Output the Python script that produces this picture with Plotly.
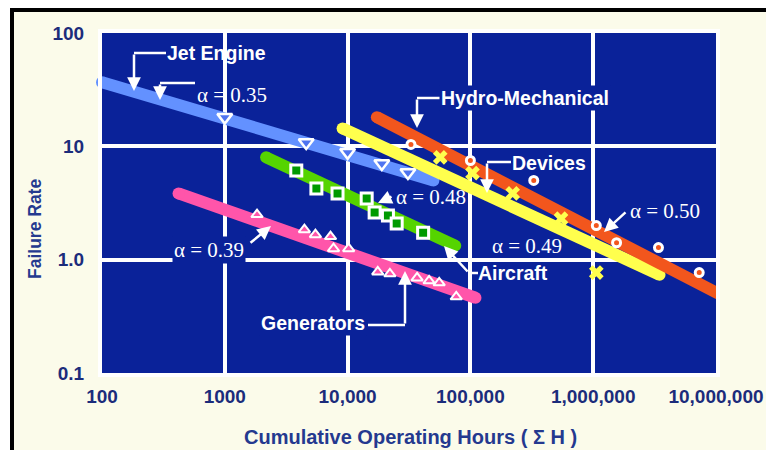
import plotly.graph_objects as go

# ---- data: cumulative operating hours vs. cumulative failure rate ----
jet_hours = [1000, 4600, 10000, 19000, 31000]
jet_rate = [18.1, 10.8, 8.85, 7.07, 5.89]
jet_fit_hours = [100, 50000]
jet_fit_rate = [36.8, 5.0]

hydro_hours = [32800, 100000, 328000, 1.06e6, 1.55e6, 3.4e6, 7.3e6]
hydro_rate = [10.4, 7.5, 5.0, 2.0, 1.41, 1.28, 0.77]
hydro_fit_hours = [17300, 1.05e7]
hydro_fit_rate = [18.1, 0.50]

devices_hours = [56800, 104000, 221000, 547000, 1.06e6]
devices_rate = [8.0, 5.8, 3.85, 2.3, 0.77]
devices_fit_hours = [9100, 3.47e6]
devices_fit_rate = [14.4, 0.736]

aircraft_hours = [3820, 5570, 8280, 14300, 16600, 21300, 25100, 41200]
aircraft_rate = [6.13, 4.25, 3.84, 3.47, 2.61, 2.45, 2.08, 1.73]
aircraft_fit_hours = [2170, 75300]
aircraft_fit_rate = [8.0, 1.33]

gen_hours = [1830, 4450, 5470, 7260, 7680, 10200, 17600, 22100, 36800, 46100, 55700, 76700]
gen_rate = [2.50, 1.84, 1.66, 1.60, 1.25, 1.25, 0.78, 0.75, 0.69, 0.65, 0.625, 0.47]
gen_fit_hours = [420, 110000]
gen_fit_rate = [3.84, 0.461]

x_tickvals = [1e2, 1e3, 1e4, 1e5, 1e6, 1e7]
x_ticktext = ["100", "1000", "10,000", "100,000", "1,000,000", "10,000,000"]
y_tickvals = [0.1, 1, 10, 100]
y_ticktext = ["0.1", "1.0", "10", "100"]

# ---- styling ----
W, H = 766, 450
L, R, T, B = 102, 716, 33, 373
NAVY = "#0A2299"
CREAM = "#FBFBEA"
TICK = "#1B2C7B"
TITLE = "#24398F"
SANS = "Liberation Sans, Arial, sans-serif"
SERIF = "Liberation Serif, Times New Roman, serif"

C_JET = "#6391FF"
C_HYDRO = "#F2561D"
C_DEV = "#FFFF4D"
C_AIR = "#55D400"
C_GEN = "#FF55AA"
LW = 12


def px(x):
    return (x - L) / (R - L)


def py(y):
    return (B - y) / (B - T)


fig = go.Figure()

# thick regression bands, with round end caps
for fx, fy, col in [
    (jet_fit_hours, jet_fit_rate, C_JET),
    (aircraft_fit_hours, aircraft_fit_rate, C_AIR),
    (gen_fit_hours, gen_fit_rate, C_GEN),
    (devices_fit_hours, devices_fit_rate, C_DEV),
    (hydro_fit_hours, hydro_fit_rate, C_HYDRO),
]:
    fig.add_trace(go.Scatter(
        x=fx, y=fy, mode="lines+markers",
        line=dict(color=col, width=LW),
        marker=dict(color=col, size=LW, line=dict(width=0)),
        cliponaxis=False, hoverinfo="skip", showlegend=False))

# observed points
fig.add_trace(go.Scatter(
    x=jet_hours, y=jet_rate, mode="markers", showlegend=False,
    marker=dict(symbol="triangle-down", size=13, color="#4F74F0",
                line=dict(color="white", width=2.5))))
fig.add_trace(go.Scatter(
    x=gen_hours, y=gen_rate, mode="markers", showlegend=False,
    marker=dict(symbol="triangle-up", size=10, color=C_GEN,
                line=dict(color="white", width=2))))
fig.add_trace(go.Scatter(
    x=aircraft_hours, y=aircraft_rate, mode="markers", showlegend=False,
    marker=dict(symbol="square", size=11, color="#009A00",
                line=dict(color="white", width=3))))
fig.add_trace(go.Scatter(
    x=devices_hours, y=devices_rate, mode="markers", showlegend=False,
    marker=dict(symbol="x", size=13, color=C_DEV, line=dict(width=0))))
fig.add_trace(go.Scatter(
    x=hydro_hours, y=hydro_rate, mode="markers", showlegend=False,
    marker=dict(symbol="circle", size=8, color=C_HYDRO,
                line=dict(color="white", width=3))))

shapes = []
annotations = []


def seg(x0, y0, x1, y1):
    shapes.append(dict(type="line", xref="paper", yref="paper",
                       x0=px(x0), y0=py(y0), x1=px(x1), y1=py(y1),
                       line=dict(color="white", width=2.5)))


def arrow(tx, ty, hx, hy):
    annotations.append(dict(
        xref="paper", yref="paper", x=px(hx), y=py(hy), ax=tx - hx, ay=ty - hy,
        text="", showarrow=True, arrowhead=2, arrowsize=1.1, arrowwidth=2.5,
        arrowcolor="white", standoff=0, startstandoff=0))


def label(x, y, text, serif=False, bg=None):
    d = dict(xref="paper", yref="paper", x=px(x), y=py(y), text=text,
             showarrow=False, xanchor="left", yanchor="middle", borderpad=1,
             font=dict(family=SERIF if serif else SANS,
                       size=21 if serif else 19.5, color="white"))
    if bg:
        d["bgcolor"] = bg
    annotations.append(d)


# Jet Engine
label(165, 53, "<b>Jet Engine</b>")
seg(166, 53, 134, 53)
arrow(134, 53, 134, 91)
label(195, 95, "α = 0.35", serif=True)
seg(195, 83, 160, 83)
arrow(160, 83, 160, 100)

# Hydro-Mechanical
label(439, 98, "<b>Hydro-Mechanical</b>", bg=NAVY)
seg(440, 98, 417, 98)
arrow(417, 98, 417, 128)

# Devices
label(510, 163, "<b>Devices</b>")
seg(511, 162, 487, 162)
arrow(487, 162, 487, 193)
label(490, 246, "α = 0.49", serif=True)

# Aircraft
label(394, 197, "α = 0.48", serif=True)
arrow(393, 196, 378, 203)
label(476, 273, "<b>Aircraft</b>")
seg(478, 273, 469, 273)
arrow(469, 273, 444, 246)

# Hydro alpha
label(628, 211, "α = 0.50", serif=True)
arrow(627, 211, 604, 232)

# Generators
label(172, 250, "α = 0.39", serif=True, bg=NAVY)
arrow(249, 244, 271, 226)
label(259, 323, "<b>Generators</b>", bg=NAVY)
seg(368, 325, 405, 325)
arrow(405, 325, 405, 271)

# axis titles
annotations.append(dict(
    xref="paper", yref="paper", x=px(35), y=py(229), text="<b>Failure Rate</b>",
    textangle=-90, showarrow=False, xanchor="center", yanchor="middle",
    font=dict(family=SANS, size=17.5, color=TITLE)))
annotations.append(dict(
    xref="paper", yref="paper", x=px(410), y=py(437),
    text="<b>Cumulative Operating Hours ( Σ H )</b>",
    showarrow=False, xanchor="center", yanchor="middle",
    font=dict(family=SANS, size=20, color=TITLE)))

# page frame: white outside, black rule, cream inside
shapes += [
    dict(type="rect", xref="paper", yref="paper", x0=px(-5), x1=px(10),
         y0=py(-5), y1=py(460), fillcolor="white", line=dict(width=0)),
    dict(type="rect", xref="paper", yref="paper", x0=px(-5), x1=px(780),
         y0=py(-5), y1=py(8), fillcolor="white", line=dict(width=0)),
    dict(type="rect", xref="paper", yref="paper", x0=px(10), x1=px(14),
         y0=py(8), y1=py(460), fillcolor="black", line=dict(width=0)),
    dict(type="rect", xref="paper", yref="paper", x0=px(10), x1=px(780),
         y0=py(8), y1=py(12), fillcolor="black", line=dict(width=0)),
]

axis_common = dict(
    type="log", showgrid=True, gridcolor="white", gridwidth=4,
    showline=True, linecolor="white", linewidth=4, mirror=True,
    zeroline=False, ticks="", fixedrange=True, automargin=False,
    tickfont=dict(family=SANS, size=19, color=TICK, weight="bold"),
)

fig.update_layout(
    width=W, height=H,
    margin=dict(l=L, r=W - R, t=T, b=H - B, pad=0, autoexpand=False),
    paper_bgcolor=CREAM, plot_bgcolor=NAVY,
    xaxis=dict(axis_common, range=[2, 7], tickvals=x_tickvals,
               ticktext=x_ticktext, ticklabelstandoff=3),
    yaxis=dict(axis_common, range=[-1, 2], tickvals=y_tickvals,
               ticktext=y_ticktext, ticklabelstandoff=10),
    shapes=shapes, annotations=annotations, showlegend=False,
)

fig.write_html("out.html")
